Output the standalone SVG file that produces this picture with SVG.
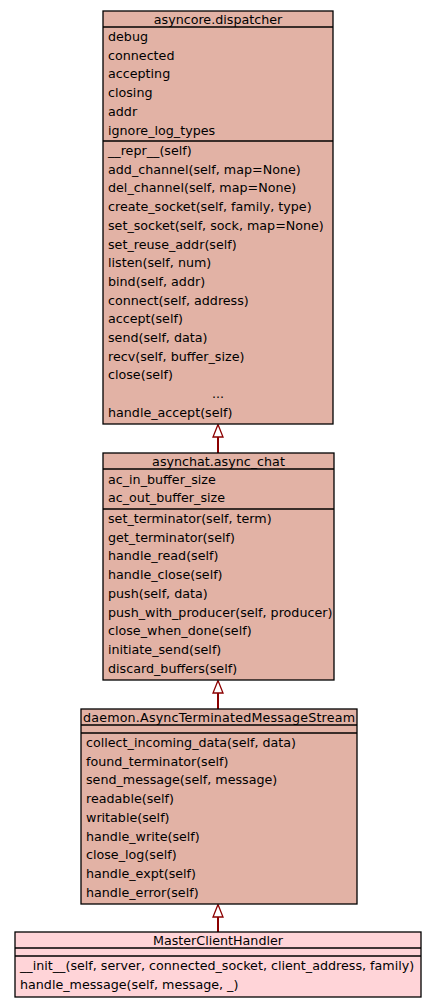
<svg xmlns="http://www.w3.org/2000/svg" width="437" height="1008" viewBox="0 0 437 1008">
  <defs>
    <style>
      text { font-family: "DejaVu Sans", "Liberation Sans", sans-serif; font-size: 12.7px; fill: #000; }
      .c { text-anchor: middle; }
      .box { fill: #e2b2a5; stroke: #000; stroke-width: 1.3; }
      .box.leaf { fill: #ffd4d8; }
      .sep { stroke: #000; stroke-width: 1.3; }
      .edge { stroke: #8b0000; stroke-width: 2; fill: none; }
      .head { fill: #fff; stroke: #8b0000; stroke-width: 1.3; }
    </style>
  </defs>

  <rect width="437" height="1008" fill="#fff"/>

  <!-- inheritance edges -->
  <g id="connectors">
    <line class="edge" x1="218" y1="453" x2="218" y2="437"/>
    <polygon class="head" points="218,424.5 213,437 223,437"/>
    <line class="edge" x1="218" y1="709" x2="218" y2="693"/>
    <polygon class="head" points="218,680.5 213,693 223,693"/>
    <line class="edge" x1="218" y1="932" x2="218" y2="917"/>
    <polygon class="head" points="218,904.5 213,917 223,917"/>
  </g>

  <g id="asyncore_dispatcher">
    <rect class="box" x="103" y="11" width="230" height="413"/>
    <line class="sep" x1="103" y1="27" x2="333" y2="27"/>
    <line class="sep" x1="103" y1="141" x2="333" y2="141"/>
    <text class="c" x="218" y="23.5">asyncore.dispatcher</text>
    <text x="108" y="41">debug</text>
    <text x="108" y="59.7">connected</text>
    <text x="108" y="78.4">accepting</text>
    <text x="108" y="97.1">closing</text>
    <text x="108" y="115.8">addr</text>
    <text x="108" y="134.5">ignore_log_types</text>
    <text x="108" y="155">__repr__(self)</text>
    <text x="108" y="173.7">add_channel(self, map=None)</text>
    <text x="108" y="192.4">del_channel(self, map=None)</text>
    <text x="108" y="211.1">create_socket(self, family, type)</text>
    <text x="108" y="229.8">set_socket(self, sock, map=None)</text>
    <text x="108" y="248.5">set_reuse_addr(self)</text>
    <text x="108" y="267.2">listen(self, num)</text>
    <text x="108" y="285.9">bind(self, addr)</text>
    <text x="108" y="304.6">connect(self, address)</text>
    <text x="108" y="323.3">accept(self)</text>
    <text x="108" y="342">send(self, data)</text>
    <text x="108" y="360.7">recv(self, buffer_size)</text>
    <text x="108" y="379.4">close(self)</text>
    <text class="c" x="218" y="398.1">...</text>
    <text x="108" y="416.8">handle_accept(self)</text>
  </g>

  <g id="asynchat_async_chat">
    <rect class="box" x="103" y="453" width="231" height="227"/>
    <line class="sep" x1="103" y1="469" x2="334" y2="469"/>
    <line class="sep" x1="103" y1="509" x2="334" y2="509"/>
    <text class="c" x="218.5" y="465.5">asynchat.async_chat</text>
    <text x="108" y="483.5">ac_in_buffer_size</text>
    <text x="108" y="502.2">ac_out_buffer_size</text>
    <text x="108" y="523">set_terminator(self, term)</text>
    <text x="108" y="541.7">get_terminator(self)</text>
    <text x="108" y="560.4">handle_read(self)</text>
    <text x="108" y="579.1">handle_close(self)</text>
    <text x="108" y="597.8">push(self, data)</text>
    <text x="108" y="616.5">push_with_producer(self, producer)</text>
    <text x="108" y="635.2">close_when_done(self)</text>
    <text x="108" y="653.9">initiate_send(self)</text>
    <text x="108" y="672.6">discard_buffers(self)</text>
  </g>

  <g id="daemon_AsyncTerminatedMessageStream">
    <rect class="box" x="81" y="709" width="276" height="195"/>
    <line class="sep" x1="81" y1="725" x2="357" y2="725"/>
    <line class="sep" x1="81" y1="733" x2="357" y2="733"/>
    <text class="c" x="219" y="721.5" textLength="272" lengthAdjust="spacing">daemon.AsyncTerminatedMessageStream</text>
    <text x="86" y="747">collect_incoming_data(self, data)</text>
    <text x="86" y="765.7">found_terminator(self)</text>
    <text x="86" y="784.4">send_message(self, message)</text>
    <text x="86" y="803.1">readable(self)</text>
    <text x="86" y="821.8">writable(self)</text>
    <text x="86" y="840.5">handle_write(self)</text>
    <text x="86" y="859.2">close_log(self)</text>
    <text x="86" y="877.9">handle_expt(self)</text>
    <text x="86" y="896.6">handle_error(self)</text>
  </g>

  <g id="MasterClientHandler">
    <rect class="box leaf" x="15" y="932" width="406" height="65"/>
    <line class="sep" x1="15" y1="948" x2="421" y2="948"/>
    <line class="sep" x1="15" y1="956" x2="421" y2="956"/>
    <text class="c" x="218" y="944.5">MasterClientHandler</text>
    <text x="20" y="970">__init__(self, server, connected_socket, client_address, family)</text>
    <text x="20" y="988.7">handle_message(self, message, _)</text>
  </g>
</svg>
